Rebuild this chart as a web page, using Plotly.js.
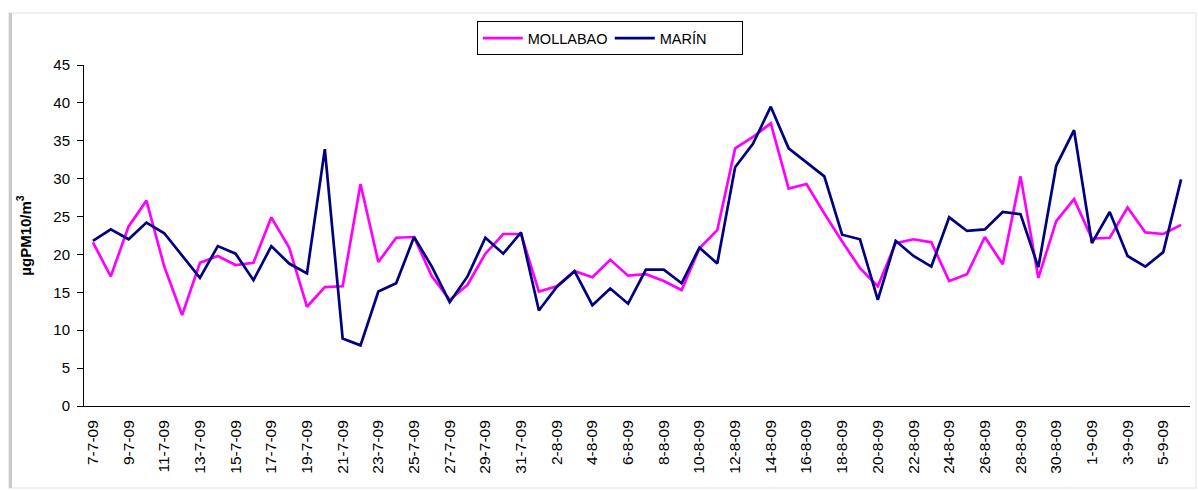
<!DOCTYPE html>
<html>
<head>
<meta charset="utf-8">
<script src="https://cdn.plot.ly/plotly-3.0.1.min.js"></script>
<style>html,body{margin:0;padding:0;background:#fff;}#chart{width:1198px;height:491px;}</style>
</head>
<body>
<div id="chart"></div>
<script>
// Dates (categories)
var dates = [
  "7-7-09","8-7-09","9-7-09","10-7-09","11-7-09","12-7-09","13-7-09","14-7-09","15-7-09","16-7-09",
  "17-7-09","18-7-09","19-7-09","20-7-09","21-7-09","22-7-09","23-7-09","24-7-09","25-7-09","26-7-09",
  "27-7-09","28-7-09","29-7-09","30-7-09","31-7-09","1-8-09","2-8-09","3-8-09","4-8-09","5-8-09",
  "6-8-09","7-8-09","8-8-09","9-8-09","10-8-09","11-8-09","12-8-09","13-8-09","14-8-09","15-8-09",
  "16-8-09","17-8-09","18-8-09","19-8-09","20-8-09","21-8-09","22-8-09","23-8-09","24-8-09","25-8-09",
  "26-8-09","27-8-09","28-8-09","29-8-09","30-8-09","31-8-09","1-9-09","2-9-09","3-9-09","4-9-09",
  "5-9-09","6-9-09"
];

// MOLLABAO series (µg PM10/m³)
var mollabao = [
  21.6,17.1,23.7,27.1,18.4,12.0,18.9,19.8,18.6,18.9,
  24.9,20.9,13.1,15.7,15.8,29.3,19.0,22.2,22.3,17.1,
  14.0,16.0,20.1,22.7,22.7,15.1,15.8,17.8,17.0,19.3,
  17.2,17.4,16.5,15.3,20.8,23.2,34.0,35.5,37.3,28.7,
  29.3,25.4,21.7,18.2,15.8,21.5,22.0,21.6,16.5,17.4,
  22.3,18.7,30.3,16.9,24.4,27.3,22.1,22.2,26.2,22.9,
  22.7,23.9
];

// MARÍN series (µg PM10/m³)
var marin = [
  21.8,23.3,22.0,24.2,22.8,19.8,16.9,21.1,20.1,16.6,
  21.1,18.8,17.5,33.9,8.9,8.0,15.1,16.2,22.3,18.4,
  13.7,17.1,22.2,20.1,22.9,12.6,15.7,17.8,13.3,15.5,
  13.5,18.0,18.0,16.2,20.9,18.8,31.5,34.6,39.5,34.0,
  32.1,30.3,22.6,22.0,14.0,21.8,19.8,18.4,24.9,23.1,
  23.3,25.6,25.3,18.3,31.7,36.4,21.5,25.6,19.8,18.4,
  20.3,29.9
];

var seriesNames = ["MOLLABAO", "MARÍN"];
var yTitle = "µgPM10/m<sup>3</sup>";

var labelVals = dates.filter(function(d, i){ return i % 2 === 0; });
var boundaryVals = [];
for (var i = -0.5; i <= dates.length - 0.5; i += 2) boundaryVals.push(i);
if (boundaryVals[boundaryVals.length-1] !== dates.length - 0.5) boundaryVals.push(dates.length - 0.5);

var font = "Liberation Sans, Arial, sans-serif";

var traces = [
  {x: dates, y: mollabao, name: seriesNames[0], type: "scatter", mode: "lines",
   line: {color: "#FF00FF", width: 2.7}},
  {x: dates, y: marin, name: seriesNames[1], type: "scatter", mode: "lines",
   line: {color: "#000080", width: 2.7}}
];

var layout = {
  width: 1198, height: 491,
  margin: {l: 84, r: 8, t: 65, b: 85},
  paper_bgcolor: "#ffffff", plot_bgcolor: "#ffffff",
  font: {family: font, size: 15, color: "#000"},
  showlegend: true,
  legend: {
    orientation: "h", xref: "container", yref: "container",
    x: 0.509, xanchor: "center", y: 0.957, yanchor: "top",
    bordercolor: "#000", borderwidth: 1, bgcolor: "#fff",
    font: {family: font, size: 14.5, color: "#000"},
    itemwidth: 40, entrywidth: 77, entrywidthmode: "pixels", tracegroupgap: 0
  },
  xaxis: {
    type: "category", range: [-0.5, dates.length - 0.5],
    tickmode: "array", tickvals: labelVals, ticktext: labelVals,
    tickangle: -90, ticks: "", showgrid: false, zeroline: false,
    showline: true, linecolor: "#000", linewidth: 1,
    tickfont: {family: font, size: 15.5, color: "#000"},
    ticklabelstandoff: 7, fixedrange: true
  },
  xaxis2: {
    overlaying: "x", anchor: "y", side: "bottom", type: "linear",
    range: [-0.5, dates.length - 0.5],
    tickmode: "array", tickvals: boundaryVals, showticklabels: false,
    ticks: "outside", ticklen: 6, tickcolor: "#000", tickwidth: 1,
    showgrid: false, zeroline: false, showline: false
  },
  yaxis: {
    range: [0, 45], tickmode: "linear", tick0: 0, dtick: 5,
    ticks: "outside", ticklen: 6, tickcolor: "#000", tickwidth: 1,
    showgrid: false, zeroline: false,
    showline: true, linecolor: "#000", linewidth: 1,
    tickfont: {family: font, size: 15, color: "#000"},
    ticklabelstandoff: 4,
    title: {text: yTitle, font: {family: font, size: 15, color: "#000", weight: "bold"}, standoff: 18},
    fixedrange: true
  },
  shapes: [
    {type: "rect", xref: "paper", yref: "paper",
     x0: -0.0678, x1: 1.0055, y0: -0.2405, y1: 1.1525,
     line: {color: "#ececec", width: 1.5}, layer: "below"},
    {type: "line", xref: "paper", yref: "paper",
     x0: -0.0665, x1: -0.0665, y0: -0.2405, y1: 1.1525,
     line: {color: "#c8c8c8", width: 3}, layer: "below"}
  ]
};

Plotly.newPlot("chart", traces, layout, {displayModeBar: false, staticPlot: true});
</script>
</body>
</html>
